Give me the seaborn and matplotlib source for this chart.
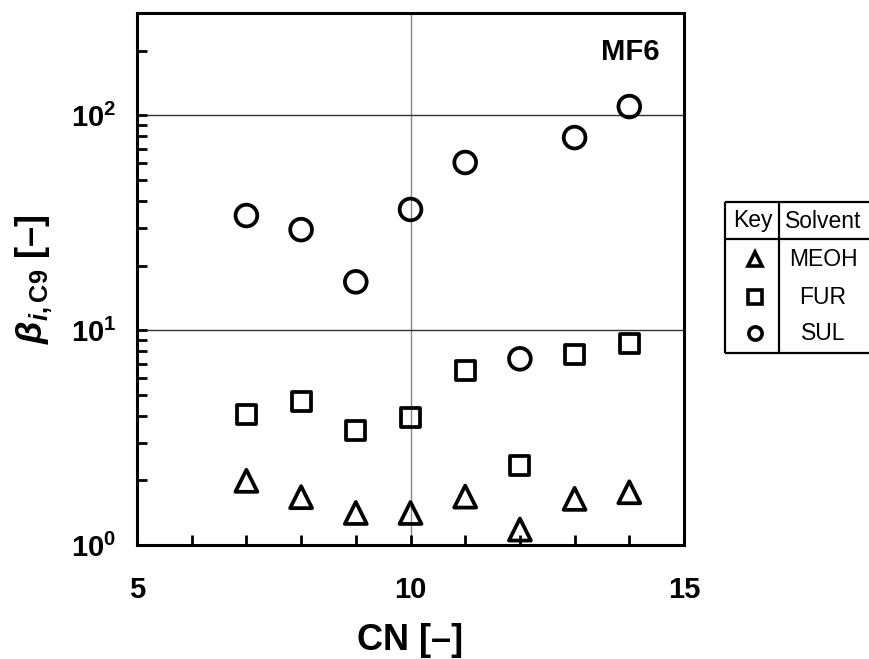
import numpy as np
import pandas as pd
import matplotlib
matplotlib.use("Agg")
import matplotlib.pyplot as plt
import seaborn as sns
from matplotlib.ticker import LogLocator, FixedLocator, FixedFormatter, NullFormatter
from matplotlib.lines import Line2D

# ---- data ----
cn = [7, 8, 9, 10, 11, 12, 13, 14]
meoh = [1.99, 1.67, 1.41, 1.41, 1.68, 1.18, 1.64, 1.76]
fur = [4.04, 4.64, 3.40, 3.91, 6.50, 2.34, 7.74, 8.71]
sul = [34.2, 29.4, 16.8, 36.5, 60.4, 7.36, 78.9, 110.0]
solvents = ["MEOH", "FUR", "SUL"]
marker_map = {"MEOH": "^", "FUR": "s", "SUL": "o"}
x_ticks = [5, 10, 15]
y_ticks = [1, 10, 100]
y_tick_labels = [r"$\mathbf{10^{0}}$", r"$\mathbf{10^{1}}$", r"$\mathbf{10^{2}}$"]

df = pd.DataFrame({
    "CN": cn * 3,
    "beta": meoh + fur + sul,
    "Solvent": ["MEOH"] * len(cn) + ["FUR"] * len(cn) + ["SUL"] * len(cn),
})

sns.set_style("ticks")
plt.rcParams["font.family"] = ["Liberation Sans", "DejaVu Sans"]
plt.rcParams["mathtext.fontset"] = "custom"
plt.rcParams["mathtext.rm"] = "Liberation Sans:bold"
plt.rcParams["mathtext.bf"] = "Liberation Sans:bold"
plt.rcParams["mathtext.it"] = "Liberation Sans:italic:bold"
for k in ["text.color", "axes.labelcolor", "xtick.color", "ytick.color", "axes.edgecolor"]:
    plt.rcParams[k] = "black"

fig = plt.figure(figsize=(8.69, 6.59), dpi=100)
ax = fig.add_axes([137 / 869, 1 - 545 / 659, (684 - 137) / 869, (545 - 13) / 659])

sizes = {"MEOH": 250, "FUR": 185, "SUL": 245}
for s in solvents:
    sub = df[df["Solvent"] == s]
    sns.scatterplot(data=sub, x="CN", y="beta", marker=marker_map[s], s=sizes[s],
                    facecolor="none", edgecolor="black", linewidth=2.7,
                    legend=False, ax=ax, zorder=3)

ax.set_yscale("log")
ax.set_xlim(5, 15)
ax.set_ylim(1, 300)

ax.xaxis.set_major_locator(FixedLocator(x_ticks))
ax.xaxis.set_minor_locator(FixedLocator([6, 7, 8, 9, 11, 12, 13, 14]))
ax.yaxis.set_major_locator(FixedLocator(y_ticks))
ax.yaxis.set_major_formatter(FixedFormatter(y_tick_labels))
ax.yaxis.set_minor_locator(LogLocator(base=10, subs=np.arange(2, 10), numticks=20))
ax.yaxis.set_minor_formatter(NullFormatter())

ax.tick_params(axis="both", which="both", direction="in", width=2, length=7,
               top=False, right=False, colors="black")
ax.tick_params(axis="x", which="major", pad=22, labelsize=21)
ax.tick_params(axis="y", which="major", pad=15, labelsize=21)
for lab in ax.get_xticklabels():
    lab.set_fontweight("bold")

for sp in ax.spines.values():
    sp.set_linewidth(2.2)
    sp.set_color("black")
    sp.set_visible(True)

ax.xaxis.grid(True, which="major", color="#888888", linewidth=1.0)
ax.yaxis.grid(True, which="major", color="#333333", linewidth=1.0)
ax.set_axisbelow(True)

ax.set_xlabel("CN [–]", fontsize=26, fontweight="bold", labelpad=14, color="black")
ax.set_ylabel(r"$\beta_{i,\mathrm{C9}}$ [–]", fontsize=26, fontweight="bold",
              labelpad=12, color="black")

ax.text(0.956, 0.927, "MF6", transform=ax.transAxes, ha="right", va="center",
        fontsize=21, fontweight="bold", color="black")

# ---- key table (overlay in pixel coords) ----
ov = fig.add_axes([0, 0, 1, 1], facecolor="none")
ov.set_xlim(0, 869)
ov.set_ylim(659, 0)
ov.axis("off")
L, R, T, B, D, H = 725, 875, 202, 353, 779, 239
lw = 1.6
for xs, ys in [([L, R], [T, T]), ([L, R], [B, B]), ([L, L], [T, B]),
               ([D, D], [T, B]), ([L, R], [H, H])]:
    ov.add_line(Line2D(xs, ys, color="black", linewidth=lw, solid_capstyle="butt"))
ov.text(752.5, 221, "Key", ha="center", va="center", fontsize=16.5, color="black")
ov.text(823, 221, "Solvent", ha="center", va="center", fontsize=16.5, color="black")
row_y = [259, 297, 333]
for s, yy in zip(solvents, row_y):
    ov.plot([755], [yy], marker=marker_map[s], markersize=9.5, markerfacecolor="none",
            markeredgecolor="black", markeredgewidth=2.6, linestyle="none")
    ov.text(823, yy, s, ha="center", va="center", fontsize=16.5, color="black")

fig.savefig("out.png", dpi=100)
